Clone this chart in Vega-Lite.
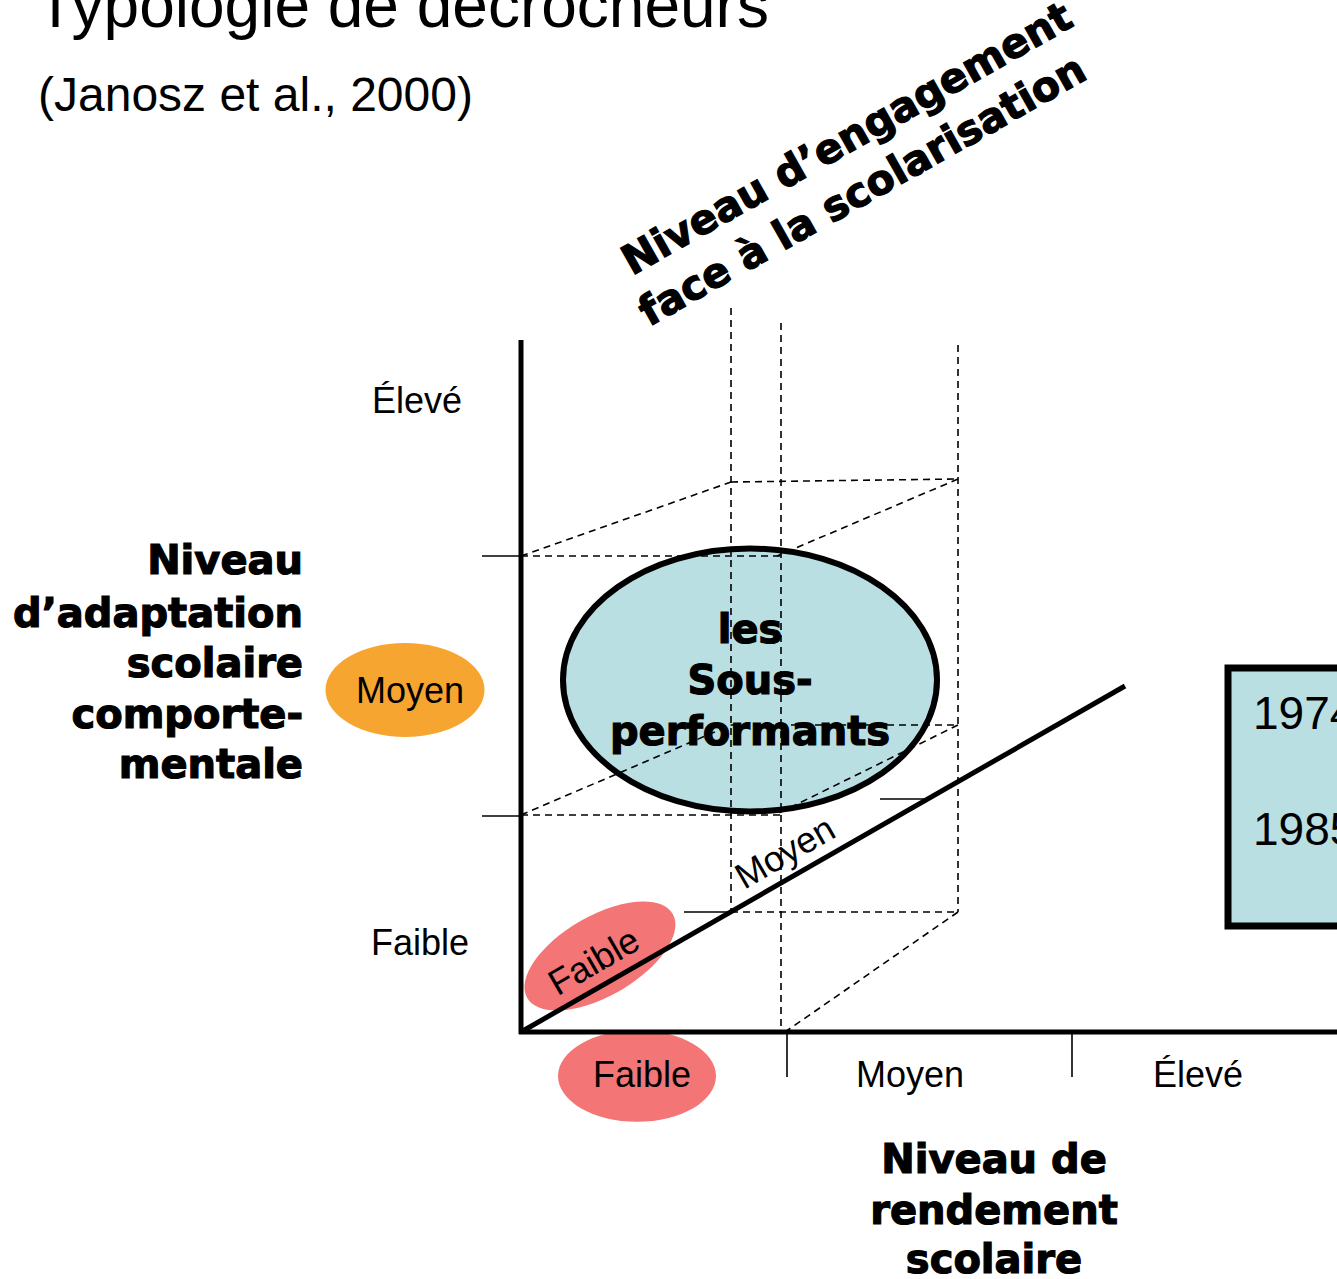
{
  "$schema": "https://vega.github.io/schema/vega-lite/v6.json",
  "width": 1337,
  "height": 1279,
  "autosize": {"type": "none"},
  "padding": 0,
  "background": "white",
  "config": {"view": {"stroke": null}},
  "datasets": {
    "thick": [
      {"x": 521, "y": 340, "x2": 521, "y2": 1034},
      {"x": 519, "y": 1032, "x2": 1337, "y2": 1032},
      {"x": 521, "y": 1032, "x2": 1125, "y2": 686}
    ],
    "thin": [
      {"x": 482, "y": 556, "x2": 521, "y2": 556},
      {"x": 482, "y": 816, "x2": 521, "y2": 816},
      {"x": 787, "y": 1032, "x2": 787, "y2": 1077},
      {"x": 1072, "y": 1032, "x2": 1072, "y2": 1077},
      {"x": 684, "y": 912, "x2": 731, "y2": 912},
      {"x": 880, "y": 799, "x2": 924, "y2": 799}
    ],
    "dashed": [
      {"x": 731, "y": 308, "x2": 731, "y2": 912},
      {"x": 781, "y": 323, "x2": 781, "y2": 1032},
      {"x": 958, "y": 345, "x2": 958, "y2": 912},
      {"x": 521, "y": 556, "x2": 731, "y2": 482},
      {"x": 731, "y": 482, "x2": 958, "y2": 479},
      {"x": 958, "y": 479, "x2": 777, "y2": 556},
      {"x": 521, "y": 556, "x2": 781, "y2": 556},
      {"x": 521, "y": 815, "x2": 731, "y2": 725},
      {"x": 731, "y": 725, "x2": 958, "y2": 725},
      {"x": 958, "y": 725, "x2": 775, "y2": 815},
      {"x": 521, "y": 815, "x2": 781, "y2": 815},
      {"x": 731, "y": 912, "x2": 958, "y2": 912},
      {"x": 958, "y": 912, "x2": 785, "y2": 1032}
    ],
    "shapes": [
      {"name": "sous", "x": 750, "y": 680},
      {"name": "orange", "x": 405, "y": 690},
      {"name": "redBottom", "x": 637, "y": 1076},
      {"name": "redDiag", "x": 600, "y": 956}
    ],
    "box": [
      {"x": 1228, "y": 668, "x2": 1420, "y2": 926}
    ],
    "texts": [
      {"g": "title", "x": 36, "y": 27, "t": "Typologie de décrocheurs"},
      {"g": "sub", "x": 38, "y": 111, "t": "(Janosz et al., 2000)"},
      {"g": "reg", "x": 417, "y": 413, "t": "Élevé"},
      {"g": "reg", "x": 420, "y": 955, "t": "Faible"},
      {"g": "reg", "x": 410, "y": 703, "t": "Moyen"},
      {"g": "reg", "x": 642, "y": 1087, "t": "Faible"},
      {"g": "reg", "x": 910, "y": 1087, "t": "Moyen"},
      {"g": "reg", "x": 1198, "y": 1087, "t": "Élevé"},
      {"g": "rot", "x": 600, "y": 972, "t": "Faible"},
      {"g": "rot", "x": 791, "y": 863, "t": "Moyen"},
      {"g": "boldRight", "x": 303, "y": 574, "t": "Niveau"},
      {"g": "boldRight", "x": 303, "y": 627, "t": "d’adaptation"},
      {"g": "boldRight", "x": 303, "y": 677, "t": "scolaire"},
      {"g": "boldRight", "x": 303, "y": 728, "t": "comporte-"},
      {"g": "boldRight", "x": 303, "y": 778, "t": "mentale"},
      {"g": "boldCenter", "x": 750, "y": 643, "t": "les"},
      {"g": "boldCenter", "x": 750, "y": 694, "t": "Sous-"},
      {"g": "boldCenter", "x": 750, "y": 745, "t": "performants"},
      {"g": "boldCenter", "x": 994, "y": 1173, "t": "Niveau de"},
      {"g": "boldCenter", "x": 994, "y": 1224, "t": "rendement"},
      {"g": "boldCenter", "x": 994, "y": 1273, "t": "scolaire"},
      {"g": "boldRot", "x": 632, "y": 276, "t": "Niveau d’engagement"},
      {"g": "boldRot", "x": 649, "y": 327, "t": "face à la scolarisation"},
      {"g": "year", "x": 1253, "y": 729, "t": "1974"},
      {"g": "year", "x": 1253, "y": 845, "t": "1985"}
    ]
  },
  "encoding": {
    "x": {"field": "x", "type": "quantitative", "scale": {"domain": [0, 1337], "nice": false, "zero": false}, "axis": null},
    "y": {"field": "y", "type": "quantitative", "scale": {"domain": [0, 1279], "reverse": true, "nice": false, "zero": false}, "axis": null}
  },
  "layer": [
    {
      "data": {"name": "shapes"},
      "transform": [{"filter": "datum.name === 'sous'"}],
      "mark": {"type": "point", "shape": "M1,0C1,0.3883,0.5523,0.703,0,0.703C-0.5523,0.703,-1,0.3883,-1,0C-1,-0.3883,-0.5523,-0.703,0,-0.703C0.5523,-0.703,1,-0.3883,1,0Z", "size": 139876, "filled": true, "fill": "#b9dfe3", "stroke": "#000000", "strokeWidth": 6, "opacity": 1}
    },
    {
      "data": {"name": "shapes"},
      "transform": [{"filter": "datum.name === 'orange'"}],
      "mark": {"type": "point", "shape": "M1,0C1,0.3259,0.5523,0.59,0,0.59C-0.5523,0.59,-1,0.3259,-1,0C-1,-0.3259,-0.5523,-0.59,0,-0.59C0.5523,-0.59,1,-0.3259,1,0Z", "size": 25281, "filled": true, "fill": "#f7a531", "strokeWidth": 0, "opacity": 1}
    },
    {
      "data": {"name": "shapes"},
      "transform": [{"filter": "datum.name === 'redBottom'"}],
      "mark": {"type": "point", "shape": "M1,0C1,0.3203,0.5523,0.58,0,0.58C-0.5523,0.58,-1,0.3203,-1,0C-1,-0.3203,-0.5523,-0.58,0,-0.58C0.5523,-0.58,1,-0.3203,1,0Z", "size": 24964, "filled": true, "fill": "#f37575", "strokeWidth": 0, "opacity": 1}
    },
    {
      "data": {"name": "shapes"},
      "transform": [{"filter": "datum.name === 'redDiag'"}],
      "mark": {"type": "point", "shape": "M1,0C1,0.263,0.5523,0.476,0,0.476C-0.5523,0.476,-1,0.263,-1,0C-1,-0.263,-0.5523,-0.476,0,-0.476C0.5523,-0.476,1,-0.263,1,0Z", "size": 28224, "angle": -30, "filled": true, "fill": "#f37575", "strokeWidth": 0, "opacity": 1}
    },
    {
      "data": {"name": "box"},
      "mark": {"type": "rect", "fill": "#b9dfe3", "stroke": "#000000", "strokeWidth": 7},
      "encoding": {"x2": {"field": "x2"}, "y2": {"field": "y2"}}
    },
    {
      "data": {"name": "dashed"},
      "mark": {"type": "rule", "stroke": "#000000", "strokeWidth": 1.6, "strokeDash": [7, 5]},
      "encoding": {"x2": {"field": "x2"}, "y2": {"field": "y2"}}
    },
    {
      "data": {"name": "thin"},
      "mark": {"type": "rule", "stroke": "#000000", "strokeWidth": 1.6},
      "encoding": {"x2": {"field": "x2"}, "y2": {"field": "y2"}}
    },
    {
      "data": {"name": "thick"},
      "mark": {"type": "rule", "stroke": "#000000", "strokeWidth": 5, "strokeCap": "butt"},
      "encoding": {"x2": {"field": "x2"}, "y2": {"field": "y2"}}
    },
    {
      "data": {"name": "texts"},
      "transform": [{"filter": "datum.g === 'title'"}],
      "mark": {"type": "text", "font": "Liberation Sans", "fontSize": 64, "align": "left", "baseline": "alphabetic", "color": "#000000"},
      "encoding": {"text": {"field": "t"}}
    },
    {
      "data": {"name": "texts"},
      "transform": [{"filter": "datum.g === 'sub'"}],
      "mark": {"type": "text", "font": "Liberation Sans", "fontSize": 48, "align": "left", "baseline": "alphabetic", "color": "#000000"},
      "encoding": {"text": {"field": "t"}}
    },
    {
      "data": {"name": "texts"},
      "transform": [{"filter": "datum.g === 'reg'"}],
      "mark": {"type": "text", "font": "Liberation Sans", "fontSize": 36, "align": "center", "baseline": "alphabetic", "color": "#000000"},
      "encoding": {"text": {"field": "t"}}
    },
    {
      "data": {"name": "texts"},
      "transform": [{"filter": "datum.g === 'rot'"}],
      "mark": {"type": "text", "font": "Liberation Sans", "fontSize": 36, "align": "center", "baseline": "alphabetic", "angle": -30, "color": "#000000"},
      "encoding": {"text": {"field": "t"}}
    },
    {
      "data": {"name": "texts"},
      "transform": [{"filter": "datum.g === 'year'"}],
      "mark": {"type": "text", "font": "Liberation Sans", "fontSize": 46, "align": "left", "baseline": "alphabetic", "color": "#000000"},
      "encoding": {"text": {"field": "t"}}
    },
    {
      "data": {"name": "texts"},
      "transform": [{"filter": "datum.g === 'boldRight'"}],
      "mark": {"type": "text", "font": "DejaVu Sans", "fontWeight": "bold", "fontSize": 40, "align": "right", "baseline": "alphabetic", "color": "#000000", "stroke": "#000000", "strokeWidth": 1.2},
      "encoding": {"text": {"field": "t"}}
    },
    {
      "data": {"name": "texts"},
      "transform": [{"filter": "datum.g === 'boldCenter'"}],
      "mark": {"type": "text", "font": "DejaVu Sans", "fontWeight": "bold", "fontSize": 40, "align": "center", "baseline": "alphabetic", "color": "#000000", "stroke": "#000000", "strokeWidth": 1.2},
      "encoding": {"text": {"field": "t"}}
    },
    {
      "data": {"name": "texts"},
      "transform": [{"filter": "datum.g === 'boldRot'"}],
      "mark": {"type": "text", "font": "DejaVu Sans", "fontWeight": "bold", "fontSize": 41, "align": "left", "baseline": "alphabetic", "angle": -29.5, "color": "#000000", "stroke": "#000000", "strokeWidth": 1.2},
      "encoding": {"text": {"field": "t"}}
    }
  ]
}
